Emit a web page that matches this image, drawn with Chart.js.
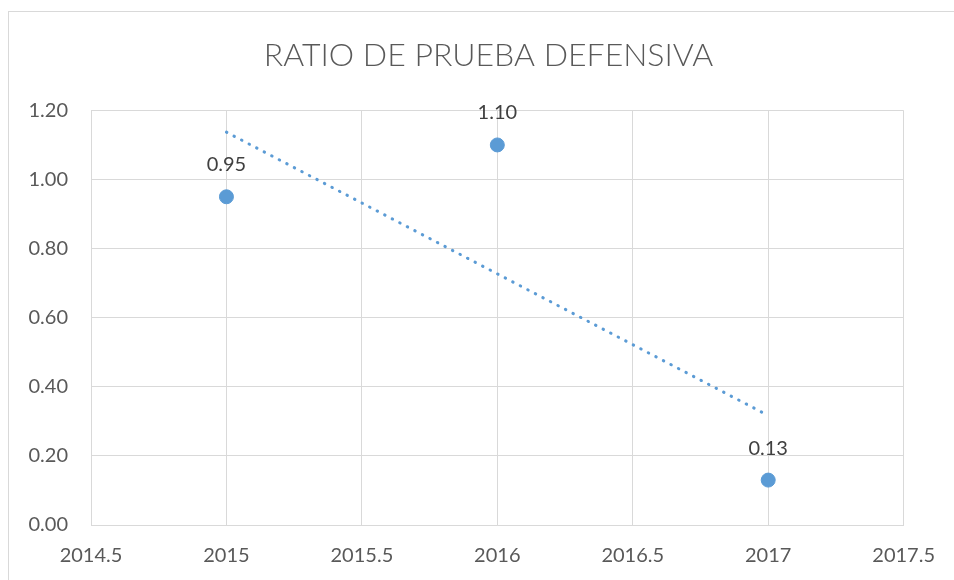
<!DOCTYPE html>
<html>
<head>
<meta charset="utf-8">
<script src="https://cdn.jsdelivr.net/npm/chart.js@4"></script>
<style>
  html, body { margin: 0; padding: 0; background: #fff; overflow: hidden; }
  #frame {
    position: absolute; left: 8px; top: 11px;
    width: 980px; height: 600px;
    border: 1px solid #d9d9d9;
  }
  #wrap { position: absolute; left: 23px; top: 0; width: 931px; height: 580px; }
</style>
</head>
<body>
<div id="frame"></div>
<div id="wrap"><canvas id="ratioChart"></canvas></div>
<script>
// Data
const years = [2015, 2016, 2017];
const ratios = [0.95, 1.10, 0.13];
// linear trendline end points
const trendYears = [2015, 2017];
const trendValues = [1.137, 0.317];

document.addEventListener('DOMContentLoaded', function() {
  const ctx = document.getElementById('ratioChart').getContext('2d');
  const gridColor = '#d9d9d9';
  const textColor = '#595959';
  const blue = '#5b9bd5';

  // draws the value above each point
  const valueLabels = {
    id: 'valueLabels',
    afterDatasetsDraw(chart) {
      const meta = chart.getDatasetMeta(0);
      const c = chart.ctx;
      c.save();
      c.font = '20px Lato';
      c.fillStyle = '#404040';
      c.textAlign = 'center';
      c.textBaseline = 'middle';
      meta.data.forEach(function(pt, i) {
        c.fillText(ratios[i].toFixed(2), pt.x, pt.y - 32);
      });
      c.restore();
    }
  };

  new Chart(ctx, {
    type: 'scatter',
    data: {
      datasets: [{
        label: 'Ratio',
        data: years.map((y, i) => ({ x: y, y: ratios[i] })),
        backgroundColor: blue,
        borderColor: blue,
        pointRadius: 7,
        pointHoverRadius: 7
      }, {
        type: 'line',
        label: 'Tendencia',
        data: trendYears.map((y, i) => ({ x: y, y: trendValues[i] })),
        borderColor: blue,
        borderWidth: 3,
        borderDash: [0.5, 8],
        borderCapStyle: 'round',
        pointRadius: 0,
        fill: false
      }]
    },
    options: {
      responsive: true,
      maintainAspectRatio: false,
      animation: false,
      layout: { padding: 0 },
      plugins: {
        legend: { display: false },
        tooltip: { enabled: false },
        title: {
          display: true,
          text: 'RATIO DE PRUEBA DEFENSIVA',
          color: textColor,
          font: { family: 'Lato', size: 32, weight: '300', lineHeight: 1.2 },
          padding: { top: 36, bottom: 36 }
        }
      },
      scales: {
        x: {
          type: 'linear',
          min: 2014.5,
          max: 2017.5,
          grid: { color: gridColor, drawTicks: false },
          border: { color: gridColor },
          afterFit: function(scale) { scale.height = 55; },
          ticks: {
            stepSize: 0.5,
            padding: 19,
            color: textColor,
            font: { family: 'Lato', size: 20 },
            callback: v => String(v)
          }
        },
        y: {
          min: 0,
          max: 1.2,
          grid: { color: gridColor, drawTicks: false },
          border: { display: false },
          afterFit: function(scale) { scale.width = 68; },
          ticks: {
            stepSize: 0.2,
            padding: 23,
            color: textColor,
            font: { family: 'Lato', size: 20 },
            callback: v => v.toFixed(2)
          }
        },
        // empty right-hand spacer so the title stays centred on the canvas
        spacer: {
          position: 'right',
          grid: { display: false },
          border: { display: false },
          ticks: { display: false },
          afterFit: function(scale) { scale.width = 45; }
        }
      }
    },
    plugins: [valueLabels]
  });
});
</script>
</body>
</html>
